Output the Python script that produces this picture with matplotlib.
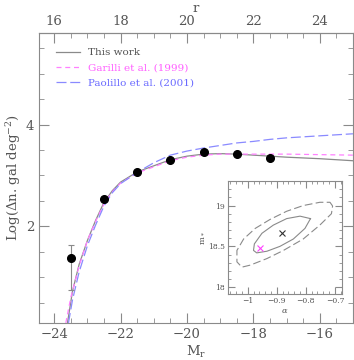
import matplotlib.pyplot as plt
from matplotlib.ticker import MultipleLocator, FixedLocator

plt.rcParams['font.family'] = ['DejaVu Serif']
plt.rcParams['mathtext.fontset'] = 'dejavuserif'

# data points (M_r, log counts) and asymmetric errors
mag = [-23.5, -22.5, -21.5, -20.5, -19.5, -18.5, -17.5]
logn = [1.38, 2.53, 3.07, 3.31, 3.47, 3.43, 3.34]
err_lo = [0.63, 0, 0, 0, 0, 0, 0]
err_hi = [0.25, 0, 0, 0, 0, 0, 0]

# model curves
this_m = [-23.6, -23.45, -23.25, -23.0, -22.75, -22.5, -22.25, -22.0, -21.5, -21.0,
          -20.5, -20.0, -19.5, -19.0, -18.5, -18.0, -17.5, -17.0, -16.0, -15.0]
this_y = [0.10, 0.72, 1.25, 1.72, 2.12, 2.47, 2.70, 2.87, 3.07, 3.19,
          3.31, 3.38, 3.42, 3.43, 3.42, 3.40, 3.38, 3.36, 3.33, 3.29]
gar_m = [-23.65, -23.5, -23.25, -23.0, -22.75, -22.5, -22.25, -22.0, -21.5, -21.0,
         -20.5, -20.0, -19.5, -19.0, -18.0, -17.0, -16.0, -15.0]
gar_y = [0.10, 0.60, 1.22, 1.72, 2.10, 2.44, 2.68, 2.85, 3.05, 3.17,
         3.29, 3.36, 3.40, 3.42, 3.42, 3.42, 3.41, 3.40]
pao_m = [-23.57, -23.45, -23.25, -23.0, -22.75, -22.5, -22.25, -22.0, -21.5, -21.0,
         -20.5, -20.0, -19.5, -19.0, -18.5, -18.0, -17.5, -17.0, -16.0, -15.0]
pao_y = [0.10, 0.55, 1.10, 1.62, 2.03, 2.40, 2.66, 2.84, 3.06, 3.25,
         3.40, 3.48, 3.54, 3.59, 3.64, 3.67, 3.71, 3.74, 3.78, 3.82]
r_ticks = [16, 18, 20, 22, 24]

# inset: confidence contours in (alpha, m*)
in_a = [-0.784, -0.820, -0.866, -0.912, -0.951, -0.977, -0.980, -0.969, -0.934,
        -0.889, -0.843, -0.803, -0.784]
in_m = [18.84, 18.87, 18.84, 18.76, 18.66, 18.53, 18.45, 18.42, 18.44,
        18.50, 18.59, 18.72, 18.84]
out_a = [-0.708, -0.717, -0.752, -0.809, -0.866, -0.923, -0.974, -1.014, -1.037,
         -1.037, -1.020, -0.991, -0.934, -0.877, -0.809, -0.752, -0.712, -0.708]
out_m = [18.995, 19.04, 19.04, 19.00, 18.93, 18.83, 18.72, 18.59, 18.45,
         18.31, 18.245, 18.27, 18.35, 18.45, 18.59, 18.76, 18.90, 18.995]
best = (-0.883, 18.66)
garilli = (-0.957, 18.48)

gray = '#8a8a8a'
txt = '#555555'
pink = '#ff80ff'
blue = '#8a8aff'

fig = plt.figure(figsize=(3.54, 3.60), dpi=100)
ax = fig.add_axes([0.110, 0.103, 0.887, 0.805])

ax.plot(this_m, this_y, color=gray, lw=0.9, label='This work')
ax.plot(gar_m, gar_y, color=pink, lw=0.9, dashes=(4, 3), label='Garilli et al. (1999)')
ax.plot(pao_m, pao_y, color=blue, lw=0.9, dashes=(8, 3), label='Paolillo et al. (2001)')
ax.errorbar(mag, logn, yerr=[err_lo, err_hi], fmt='o', color='black', ms=5.5,
            ecolor=gray, elinewidth=0.8, capsize=2, capthick=0.8)

ax.set_xlim(-24.46, -15.0)
ax.set_ylim(0.1, 5.8)
ax.xaxis.set_major_locator(MultipleLocator(2))
ax.xaxis.set_minor_locator(MultipleLocator(0.5))
ax.yaxis.set_major_locator(MultipleLocator(2))
ax.yaxis.set_minor_locator(MultipleLocator(0.5))
ax.tick_params(which='both', direction='in', right=True, color=gray, labelcolor=txt,
               labelsize=9.5)
ax.tick_params(which='major', length=7)
ax.tick_params(which='minor', length=3.5)
for s in ax.spines.values():
    s.set_color(gray)
ax.set_xlabel(r'M$_{\rm r}$', color=txt, fontsize=9.5, labelpad=2)
ax.set_ylabel(r'Log($\Delta$n. gal deg$^{-2}$)', color=txt, fontsize=9.5, labelpad=2)
ax.set_yticks([2, 4])

top = ax.secondary_xaxis('top', functions=(lambda m: m + 40, lambda r: r - 40))
top.xaxis.set_major_locator(FixedLocator(r_ticks))
top.xaxis.set_minor_locator(MultipleLocator(0.5))
top.tick_params(which='both', direction='in', color=gray, labelcolor=txt, labelsize=9.5)
top.tick_params(which='major', length=7)
top.tick_params(which='minor', length=3.5)
top.spines['top'].set_color(gray)
top.set_xlabel('r', color=txt, fontsize=9.5, labelpad=2)

leg = ax.legend(loc='upper left', frameon=False, fontsize=7.5, handlelength=2.3,
                borderaxespad=0.6, labelspacing=0.55, bbox_to_anchor=(0.02, 0.985))
for t, c in zip(leg.get_texts(), [txt, '#ff60ff', '#6a6aff']):
    t.set_color(c)

ins = fig.add_axes([0.643, 0.182, 0.322, 0.315])
ins.plot(in_a, in_m, color=gray, lw=0.8)
ins.plot(out_a, out_m, color=gray, lw=0.8, dashes=(7, 3))
ins.plot(*best, marker='x', color='#333333', ms=5, mew=0.8)
ins.plot(*garilli, marker='x', color='#ff40ff', ms=5, mew=0.8)
ins.set_xlim(-1.069, -0.677)
ins.set_ylim(17.91, 19.30)
ins.xaxis.set_major_locator(MultipleLocator(0.1))
ins.xaxis.set_minor_locator(MultipleLocator(0.02))
ins.yaxis.set_major_locator(MultipleLocator(0.5))
ins.yaxis.set_minor_locator(MultipleLocator(0.1))
ins.tick_params(which='both', direction='in', top=True, right=True, color=gray,
                labelcolor=txt, labelsize=5.5, pad=2)
ins.tick_params(which='major', length=5)
ins.tick_params(which='minor', length=2.5)
ins.set_xticks([-1.0, -0.9, -0.8, -0.7])
ins.set_xticklabels(['\u22121', '\u22120.9', '\u22120.8', '\u22120.7'])
ins.set_yticks([18, 18.5, 19])
ins.set_yticklabels(['18', '18.5', '19'])
for s in ins.spines.values():
    s.set_color(gray)
ins.set_xlabel(r'$\alpha$', color=txt, fontsize=6, labelpad=1)
ins.set_ylabel(r'm$_*$', color=txt, fontsize=6, labelpad=1)

fig.savefig('out.png', dpi=100)
